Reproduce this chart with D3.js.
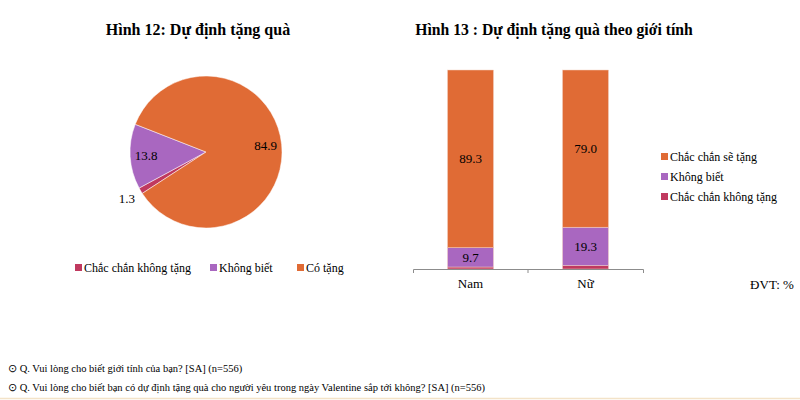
<!DOCTYPE html>
<html>
<head>
<meta charset="utf-8">
<script src="https://cdn.jsdelivr.net/npm/d3@7"></script>
<style>
  html, body { margin: 0; padding: 0; background: #fff; }
  svg { display: block; font-family: "Liberation Serif", "Times New Roman", serif; }
</style>
</head>
<body>
<svg id="chart" width="800" height="400"></svg>
<script>
// ---- Data ----
const pieTitle = "Hình 12: Dự định tặng quà";
const pieCategories = ["Chắc chắn không tặng", "Không biết", "Có tặng"];
const pieValues = [1.3, 13.8, 84.9];
const pieLegendLabels = ["Chắc chắn không tặng", "Không biết", "Có tặng"];

const barTitle = "Hình 13 : Dự định tặng quà theo giới tính";
const barCategories = ["Nam", "Nữ"];
const barSeries = ["Chắc chắn không tặng", "Không biết", "Chắc chắn sẽ tặng"];
const barKhongTang = [1.0, 1.7];
const barKhongBiet = [9.7, 19.3];
const barSeTang = [89.3, 79.0];
const unitLabel = "ĐVT: %";
const footnotes = [
  "⊙ Q. Vui lòng cho biết giới tính của bạn? [SA] (n=556)",
  "⊙ Q. Vui lòng cho biết bạn có dự định tặng quà cho người yêu trong ngày Valentine sắp tới không? [SA] (n=556)"
];

const colors = ["#C0395F", "#A967C0", "#E06B35"];

const svg = d3.select("#chart");

// ---- Pie chart ----
svg.append("text").attr("x", 198).attr("y", 35).attr("text-anchor", "middle")
  .attr("font-size", 16).attr("font-weight", "bold").attr("fill", "#000").text(pieTitle);

const cx = 206, cy = 152, R = 76;
const start = 237 * Math.PI / 180;
const pie = d3.pie().sort(null).startAngle(start).endAngle(start + 2 * Math.PI);
const arcs = pie(pieValues);
const arc = d3.arc().innerRadius(0).outerRadius(R);
const labelArcIn = d3.arc().innerRadius(60).outerRadius(60);
const labelArcOut = d3.arc().innerRadius(92).outerRadius(92);

const gp = svg.append("g").attr("transform", `translate(${cx},${cy})`);
gp.selectAll("path").data(arcs).join("path")
  .attr("d", arc).attr("fill", (d, i) => colors[i])
  .attr("stroke", "#fff").attr("stroke-width", 0.5);
gp.selectAll("text").data(arcs).join("text")
  .attr("transform", d => `translate(${(d.data < 5 ? labelArcOut : labelArcIn).centroid(d)})`)
  .attr("text-anchor", "middle").attr("dy", "0.35em")
  .attr("font-size", 13).attr("fill", "#000")
  .text(d => d3.format(".1f")(d.data));

// pie legend
const pieLegendX = [75, 210, 297];
const gl = svg.append("g");
pieLegendLabels.forEach((lab, i) => {
  gl.append("rect").attr("x", pieLegendX[i]).attr("y", 264).attr("width", 7).attr("height", 7).attr("fill", colors[i]);
  gl.append("text").attr("x", pieLegendX[i] + 9).attr("y", 272).attr("font-size", 12).attr("fill", "#000").text(lab);
});

// ---- Stacked bar chart ----
svg.append("text").attr("x", 554).attr("y", 35).attr("text-anchor", "middle")
  .attr("font-size", 15.7).attr("font-weight", "bold").attr("fill", "#000").text(barTitle);

const rows = barCategories.map((c, i) => ({
  cat: c, s0: barKhongTang[i], s1: barKhongBiet[i], s2: barSeTang[i]
}));
const keys = ["s0", "s1", "s2"];
const stack = d3.stack().keys(keys)(rows);

const x = d3.scaleBand().domain(barCategories).range([413, 643]).paddingInner(0.6).paddingOuter(0.3);
const y = d3.scaleLinear().domain([0, 100]).range([269, 70]);

const gb = svg.append("g");
stack.forEach((layer, k) => {
  gb.append("g").selectAll("rect").data(layer).join("rect")
    .attr("x", d => x(d.data.cat)).attr("width", x.bandwidth())
    .attr("y", d => y(d[1])).attr("height", d => y(d[0]) - y(d[1]))
    .attr("fill", colors[k]).attr("stroke", "#f4d2c4").attr("stroke-width", 0.5);
  if (k > 0) {
    gb.append("g").selectAll("text").data(layer).join("text")
      .attr("x", d => x(d.data.cat) + x.bandwidth() / 2)
      .attr("y", d => (y(d[0]) + y(d[1])) / 2).attr("dy", "0.35em")
      .attr("text-anchor", "middle").attr("font-size", 13).attr("fill", "#000")
      .text(d => d3.format(".1f")(d[1] - d[0]));
  }
});

// axis
const axis = d3.axisBottom(x).tickSize(0).tickSizeOuter(4).tickPadding(10);
const ga = svg.append("g").attr("transform", `translate(0,${y(0)})`).call(axis);
ga.select(".domain").attr("stroke", "#8c8c8c");
ga.selectAll("text").attr("font-size", 13).attr("fill", "#000")
  .attr("font-family", "Liberation Serif, serif");
const mid = x(barCategories[0]) + x.bandwidth() + (x.step() - x.bandwidth()) / 2;
ga.append("line").attr("x1", mid).attr("x2", mid).attr("y1", 0).attr("y2", 4).attr("stroke", "#8c8c8c");

// bar legend (reverse order)
const lg = svg.append("g");
[2, 1, 0].forEach((k, j) => {
  const yy = 157 + j * 20;
  lg.append("rect").attr("x", 661).attr("y", yy - 4).attr("width", 7).attr("height", 7).attr("fill", colors[k]);
  lg.append("text").attr("x", 670).attr("y", yy).attr("dy", "0.35em").attr("font-size", 12).attr("fill", "#000").text(barSeries[k]);
});

svg.append("text").attr("x", 772).attr("y", 289).attr("text-anchor", "middle")
  .attr("font-size", 13).attr("fill", "#000").text(unitLabel);

// footnotes
footnotes.forEach((t, i) => {
  svg.append("text").attr("x", 8).attr("y", 372 + i * 19).attr("font-size", 10.5).attr("fill", "#000").text(t);
});
svg.append("line").attr("x1", 0).attr("x2", 800).attr("y1", 398.5).attr("y2", 398.5)
  .attr("stroke", "#f3e3c8").attr("stroke-width", 1.5);
</script>
</body>
</html>
